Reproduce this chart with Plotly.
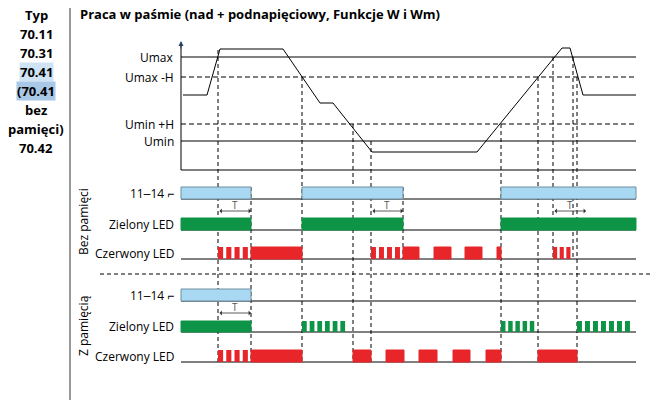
import plotly.graph_objects as go

# voltage curve (x, y in chart pixels)
volt_x = [183, 207, 220, 283, 320, 333, 372, 477, 562, 570, 583, 636]
volt_y = [95, 95, 49, 49, 103, 103, 152, 152, 48, 48, 95, 95]
levels = [("Umax", 57, "solid"), ("Umax -H", 77, "5px,3px"), ("Umin +H", 124, "5px,3px"), ("Umin", 141, "solid")]

# timing dashed lines: x, y start, y end
vlines = [(218, 50, 362), (251, 187, 362), (302, 77, 362), (353, 124, 362), (371, 141, 362),
          (403, 187, 259), (501, 124, 362), (538, 77, 362), (553, 57, 259), (573, 57, 259), (577, 77, 362)]

rows = {  # name: (top, bottom)
    "b_rel": (187, 199), "b_grn": (218, 230), "b_red": (247, 259),
    "z_rel": (289, 301), "z_grn": (321, 332), "z_red": (350, 362),
}
solid_bars = {
    "b_rel": [(181, 251), (302, 403), (501, 636)],
    "b_grn": [(181, 251), (302, 403), (501, 636)],
    "b_red": [(251, 302), (403, 419), (434, 451), (465, 482), (497, 501)],
    "z_rel": [(181, 251)],
    "z_grn": [(181, 251)],
    "z_red": [(251, 302), (353, 371), (386, 404), (419, 437), (453, 470), (486, 501), (538, 577)],
}
blink_bars = {  # (start, end, count)
    "b_red": [(218, 251, 4), (371, 403, 4), (553, 573, 3)],
    "z_grn": [(302, 348, 6), (501, 537, 5), (577, 633, 7)],
    "z_red": [(218, 251, 4)],
}
t_arrows = [(218, 251, 211), (371, 403, 211), (553, 586, 211), (218, 251, 313)]
colors = {"rel": "#a8d8f2", "grn": "#0e9447", "red": "#e8262a"}

fig = go.Figure()
shapes = []
annots = []

# voltage axes
shapes.append(dict(type="line", x0=181, x1=181, y0=45, y1=170, line=dict(color="black", width=1)))
shapes.append(dict(type="line", x0=181, x1=636, y0=170, y1=170, line=dict(color="black", width=1)))
for name, y, dash in levels:
    shapes.append(dict(type="line", x0=181, x1=636, y0=y, y1=y, line=dict(color="black", width=1, dash=dash)))
    annots.append(dict(x=176, y=y, text=name, xanchor="right", showarrow=False, font=dict(size=12)))
annots.append(dict(x=181, y=41, ax=181, ay=50, axref="x", ayref="y", text="", showarrow=True,
                   arrowhead=2, arrowsize=1, arrowwidth=1))
fig.add_trace(go.Scatter(x=volt_x, y=volt_y, mode="lines", line=dict(color="black", width=1), hoverinfo="skip"))

for x, y0, y1 in vlines:
    shapes.append(dict(type="line", x0=x, x1=x, y0=y0, y1=y1, line=dict(color="black", width=1, dash="4px,3px")))

# baselines
for key, (top, bot) in rows.items():
    shapes.append(dict(type="line", x0=181, x1=636, y0=bot, y1=bot, line=dict(color="black", width=1)))

for key, bars in solid_bars.items():
    top, bot = rows[key]
    c = colors[key[2:]]
    for x0, x1 in bars:
        shapes.append(dict(type="rect", x0=x0, x1=x1, y0=top, y1=bot, fillcolor=c,
                           line=dict(color="#6f8fa0" if key.endswith("rel") else c, width=1)))
for key, bars in blink_bars.items():
    top, bot = rows[key]
    c = colors[key[2:]]
    for x0, x1, n in bars:
        step = (x1 - x0) / n
        for i in range(n):
            shapes.append(dict(type="rect", x0=x0 + i * step, x1=x0 + i * step + step * 0.62,
                               y0=top, y1=bot, fillcolor=c, line=dict(width=0)))

for x0, x1, y in t_arrows:
    annots.append(dict(x=x1, y=y, ax=x0, ay=y, axref="x", ayref="y", text="", showarrow=True,
                       arrowhead=1, arrowside="end+start", arrowsize=1, arrowwidth=0.8, arrowcolor="#333"))
    annots.append(dict(x=(x0 + x1) / 2, y=y - 6, text="T", showarrow=False, font=dict(size=10, color="#555")))

# separator
shapes.append(dict(type="line", x0=100, x1=658, y0=274, y1=274, line=dict(color="black", width=1, dash="4px,3px")))
shapes.append(dict(type="line", x0=70, x1=70, y0=0, y1=400, line=dict(color="#999", width=2)))

# row labels
row_labels = [("11‒14 ⌐", 193), ("Zielony LED", 224), ("Czerwony LED", 253),
              ("11‒14 ⌐", 295), ("Zielony LED", 326), ("Czerwony LED", 356)]
for txt, y in row_labels:
    annots.append(dict(x=176, y=y, text=txt, xanchor="right", showarrow=False, font=dict(size=12)))
annots.append(dict(x=83, y=222, text="Bez pamięci", textangle=-90, showarrow=False, font=dict(size=12)))
annots.append(dict(x=83, y=326, text="Z pamięcią", textangle=-90, showarrow=False, font=dict(size=12)))

annots.append(dict(x=78, y=14, text="<b>Praca w paśmie (nad + podnapięciowy, Funkcje W i Wm)</b>",
                   xanchor="left", showarrow=False, font=dict(size=13)))
type_lines = [("Typ", None), ("70.11", None), ("70.31", None), ("70.41", "#cfe3f5"),
              ("(70.41", "#a9c7e6"), ("bez", None), ("pamięci)", None), ("70.42", None)]
for i, (txt, bg) in enumerate(type_lines):
    annots.append(dict(x=36, y=15 + i * 19, text=f"<b>{txt}</b>", showarrow=False,
                       font=dict(size=13), bgcolor=bg, borderpad=0))

# page body has an 8px margin, so the ranges are offset to keep pixel coordinates
fig.update_layout(
    width=658, height=400, margin=dict(l=0, r=0, t=0, b=0),
    plot_bgcolor="white", paper_bgcolor="white", showlegend=False,
    font=dict(family="Open Sans, sans-serif", color="black"),
    xaxis=dict(range=[8, 666], visible=False, fixedrange=True),
    yaxis=dict(range=[408, 8], visible=False, fixedrange=True),
    shapes=shapes, annotations=annots,
)
fig.write_html("out.html")
